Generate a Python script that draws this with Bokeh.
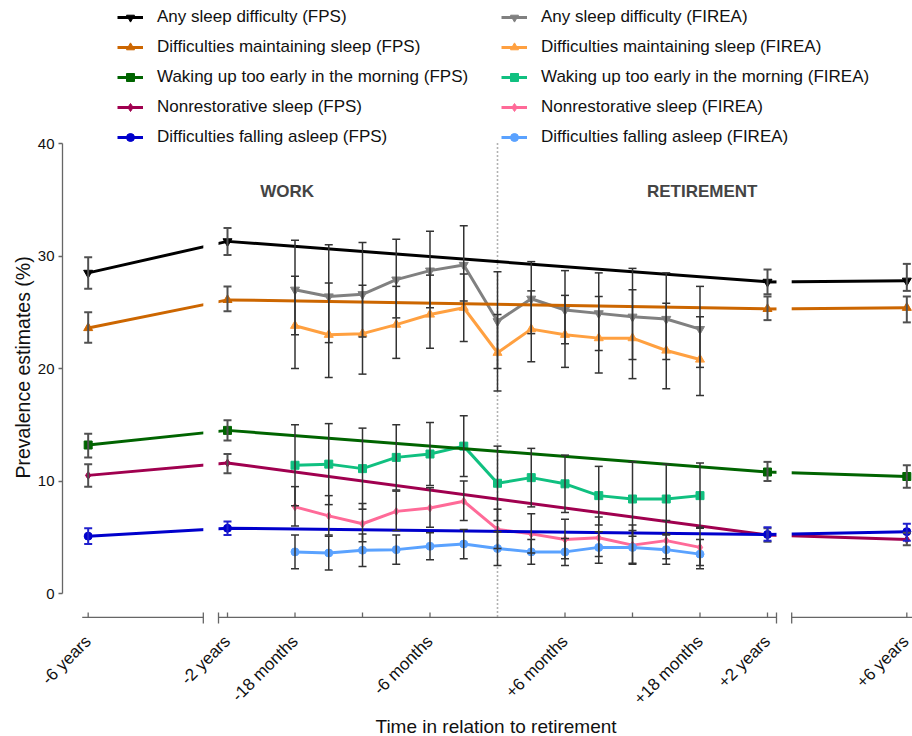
import math
from bokeh.plotting import figure
from bokeh.models import (Range1d, FixedTicker, Legend, LegendItem, Whisker, TeeHead,
                          ColumnDataSource, Label, Title)
from bokeh.embed import file_html
from bokeh.resources import INLINE

# ---------------- data ----------------
fps_months = [-72, -24, 24, 72]
firea_months = [-18, -15, -12, -9, -6, -3, 0, 3, 6, 9, 12, 15, 18]

tick_months = [-72, -24, -18, -12, -6, 6, 12, 18, 24, 72]
tick_labels = {-72: "-6 years", -24: "-2 years", -18: "-18 months", -6: "-6 months",
               6: "+6 months", 18: "+18 months", 24: "+2 years", 72: "+6 years"}
y_ticks = [0, 10, 20, 30, 40]

# FPS series (value, lower CI, upper CI)
fps_any = [28.5, 31.3, 27.7, 27.8]
fps_any_lo = [27.1, 30.1, 26.6, 26.9]
fps_any_hi = [29.9, 32.5, 28.8, 29.3]

fps_maint = [23.6, 26.1, 25.3, 25.4]
fps_maint_lo = [22.3, 25.1, 24.3, 24.1]
fps_maint_hi = [25.0, 27.3, 26.4, 26.4]

fps_wake = [13.2, 14.5, 10.8, 10.4]
fps_wake_lo = [12.1, 13.6, 10.0, 9.4]
fps_wake_hi = [14.2, 15.4, 11.7, 11.4]

fps_nonrest = [10.5, 11.6, 5.2, 4.8]
fps_nonrest_lo = [9.5, 10.7, 4.6, 4.3]
fps_nonrest_hi = [11.5, 12.4, 5.8, 5.4]

fps_fall = [5.1, 5.8, 5.25, 5.5]
fps_fall_lo = [4.4, 5.2, 4.7, 4.7]
fps_fall_hi = [5.8, 6.4, 5.9, 6.2]

# FIREA series
firea_any = [27.0, 26.4, 26.6, 27.9, 28.7, 29.2, 24.2, 26.2, 25.2, 24.9, 24.6, 24.4, 23.5]
firea_any_lo = [23.0, 22.3, 22.8, 24.5, 25.4, 26.0, 20.0, 23.1, 22.2, 21.6, 20.8, 20.8, 20.1]
firea_any_hi = [31.4, 31.0, 31.2, 31.5, 32.2, 32.7, 28.6, 29.5, 28.7, 28.5, 28.9, 28.5, 27.3]

firea_maint = [23.8, 23.0, 23.1, 23.9, 24.8, 25.4, 21.4, 23.5, 23.0, 22.7, 22.7, 21.6, 20.8]
firea_maint_lo = [20.0, 19.2, 19.5, 20.9, 21.8, 22.4, 18.0, 20.6, 20.1, 19.6, 19.1, 18.2, 17.6]
firea_maint_hi = [28.2, 27.6, 27.4, 27.3, 28.3, 28.4, 24.8, 26.9, 26.5, 26.4, 27.0, 25.8, 24.6]

firea_wake = [11.4, 11.5, 11.1, 12.1, 12.4, 13.1, 9.8, 10.3, 9.75, 8.7, 8.4, 8.4, 8.7]
firea_wake_lo = [7.8, 7.9, 7.5, 9.2, 9.6, 10.4, 6.5, 7.7, 7.2, 6.1, 5.1, 5.3, 5.8]
firea_wake_hi = [15.0, 15.1, 14.7, 15.0, 15.2, 15.8, 13.1, 12.9, 12.3, 11.3, 11.7, 11.5, 11.6]

firea_nonrest = [7.7, 6.9, 6.2, 7.3, 7.6, 8.2, 5.7, 5.3, 4.8, 4.95, 4.3, 4.7, 4.1]
firea_nonrest_lo = [6.0, 5.2, 4.6, 5.6, 5.9, 6.5, 4.0, 3.6, 3.1, 3.3, 2.7, 3.1, 2.5]
firea_nonrest_hi = [9.5, 8.7, 8.0, 9.1, 9.4, 10.0, 7.5, 7.1, 6.6, 6.8, 6.1, 6.5, 5.9]

firea_fall = [3.7, 3.6, 3.85, 3.9, 4.2, 4.4, 4.0, 3.7, 3.7, 4.1, 4.1, 3.9, 3.5]
firea_fall_lo = [2.2, 2.1, 2.4, 2.6, 3.0, 3.1, 2.5, 2.6, 2.5, 2.7, 2.6, 2.6, 2.2]
firea_fall_hi = [5.2, 5.1, 5.3, 5.2, 5.4, 5.7, 5.5, 4.8, 4.9, 5.5, 5.6, 5.2, 4.8]

# ---------------- broken time scale ----------------
COMPRESS = 0.258  # scale for the years beyond +-24 months


def pos(m):
    if abs(m) <= 24:
        return float(m)
    return math.copysign(24 + (abs(m) - 24) * COMPRESS, m)


X0, X1 = -38.667, 36.889
Y0, Y1 = -2.844, 52.711
GAP_IN, GAP_OUT = 24.8, 26.15
AXIS_V = -2.13
FONT = "Liberation Sans"
FRAME_H = 625

p = figure(width=912, height=736, x_range=Range1d(X0, X1), y_range=Range1d(Y0, Y1),
           output_backend="svg", toolbar_location=None,
           min_border_left=62, min_border_right=0, min_border_top=0, min_border_bottom=111)
p.grid.visible = False
p.outline_line_color = None

# dotted retirement line
p.segment(x0=[0], y0=[40], x1=[0], y1=[AXIS_V], line_color="#666666",
          line_width=1.6, line_dash="1 3")


def add_err(months, lo, hi, color, width):
    src = ColumnDataSource(dict(x=[pos(m) for m in months], lo=lo, hi=hi))
    w = Whisker(source=src, base="x", lower="lo", upper="hi", line_color=color,
                line_width=width, level="glyph",
                upper_head=TeeHead(size=8, line_color=color, line_width=width),
                lower_head=TeeHead(size=8, line_color=color, line_width=width))
    p.add_layout(w)


firea_series = [
    ("Any sleep difficulty (FIREA)", firea_any, firea_any_lo, firea_any_hi, "#808080", "inverted_triangle", 9),
    ("Difficulties maintaining sleep (FIREA)", firea_maint, firea_maint_lo, firea_maint_hi, "#FFA040", "triangle", 9),
    ("Waking up too early in the morning (FIREA)", firea_wake, firea_wake_lo, firea_wake_hi, "#10C080", "square", 8),
    ("Nonrestorative sleep (FIREA)", firea_nonrest, firea_nonrest_lo, firea_nonrest_hi, "#FF6A98", "diamond", 8),
    ("Difficulties falling asleep (FIREA)", firea_fall, firea_fall_lo, firea_fall_hi, "#5AA2FF", "circle", 8),
]
fps_series = [
    ("Any sleep difficulty (FPS)", fps_any, fps_any_lo, fps_any_hi, "#000000", "inverted_triangle", 9, "#505050"),
    ("Difficulties maintaining sleep (FPS)", fps_maint, fps_maint_lo, fps_maint_hi, "#CC6600", "triangle", 9, "#505050"),
    ("Waking up too early in the morning (FPS)", fps_wake, fps_wake_lo, fps_wake_hi, "#006400", "square", 8, "#505050"),
    ("Nonrestorative sleep (FPS)", fps_nonrest, fps_nonrest_lo, fps_nonrest_hi, "#A0004F", "diamond", 8, "#505050"),
    ("Difficulties falling asleep (FPS)", fps_fall, fps_fall_lo, fps_fall_hi, "#0000CC", "circle", 8, "#2020CC"),
]

firea_x = [pos(m) for m in firea_months]
fps_x = [pos(m) for m in fps_months]

firea_items = []
for label, vals, lo, hi, color, marker, size in firea_series:
    add_err(firea_months, lo, hi, "#333333", 1.5)
for label, vals, lo, hi, color, marker, size in firea_series:
    lr = p.line(firea_x, vals, line_color=color, line_width=3)
    sr = p.scatter(firea_x, vals, marker=marker, size=size, fill_color=color, line_color=color)
    firea_items.append(LegendItem(label=label, renderers=[lr, sr]))

fps_items = []
for label, vals, lo, hi, color, marker, size, ecol in fps_series:
    add_err(fps_months, lo, hi, ecol, 2)
    lr = p.line(fps_x, vals, line_color=color, line_width=3)
    sr = p.scatter(fps_x, vals, marker=marker, size=size, fill_color=color, line_color=color)
    fps_items.append(LegendItem(label=label, renderers=[lr, sr]))

# axis breaks: white masks over lines
p.quad(left=[-GAP_OUT, GAP_IN], right=[-GAP_IN, GAP_OUT], bottom=-1.0, top=38.0,
       fill_color="white", line_color=None)

# x-axis line pieces, ticks and break bars
AX_COL = "#666666"
p.segment(x0=[pos(-72) - 0.53, -GAP_IN, GAP_OUT], y0=[AXIS_V] * 3,
          x1=[-GAP_OUT, GAP_IN, X1], y1=[AXIS_V] * 3, line_color=AX_COL, line_width=1.3)
tx = [pos(m) for m in tick_months]
p.segment(x0=tx, y0=[AXIS_V] * len(tx), x1=tx, y1=[AXIS_V + 0.45] * len(tx),
          line_color=AX_COL, line_width=1.3)
bx = [-GAP_OUT, -GAP_IN, GAP_IN, GAP_OUT]
p.segment(x0=bx, y0=[AXIS_V - 0.54] * 4, x1=bx, y1=[AXIS_V + 0.44] * 4,
          line_color=AX_COL, line_width=1.3)

# x axis: labels only
xa = p.xaxis[0]
xa.ticker = FixedTicker(ticks=[pos(m) for m in tick_labels])
xa.major_label_overrides = {pos(m): t for m, t in tick_labels.items()}
xa.axis_line_color = None
xa.major_tick_line_color = None
xa.major_tick_out = 0
xa.major_tick_in = 0
xa.minor_tick_line_color = None
xa.minor_tick_out = 0
xa.major_label_orientation = math.pi / 4
xa.major_label_standoff = 13
xa.major_label_text_font = FONT
xa.major_label_text_font_size = "17px"
xa.major_label_text_color = "#111111"

ya = p.yaxis[0]
ya.ticker = FixedTicker(ticks=y_ticks)
ya.bounds = (0, 40)
ya.axis_line_color = AX_COL
ya.axis_line_width = 1.3
ya.major_tick_line_color = AX_COL
ya.major_tick_line_width = 1.3
ya.major_tick_out = 4
ya.major_tick_in = 0
ya.minor_tick_line_color = None
ya.major_label_standoff = 4
ya.major_label_text_font = FONT
ya.major_label_text_font_size = "15px"
ya.major_label_text_color = "#111111"

# axis titles as side-panel titles
p.add_layout(Title(text="Time in relation to retirement", align="left", offset=313, standoff=-6,
                   vertical_align="top",
                   text_font=FONT, text_font_size="19px", text_font_style="normal",
                   text_color="#111111"), "below")
p.add_layout(Title(text="Prevalence estimates (%)", align="left", offset=147, standoff=2,
                   text_font=FONT, text_font_size="19.5px", text_font_style="normal",
                   text_color="#111111"), "left")

# period labels
p.add_layout(Label(x=-18.7, y=35.7, text="WORK", text_align="center", text_baseline="middle",
                   text_font=FONT, text_font_size="17px", text_font_style="bold"))
p.add_layout(Label(x=18.2, y=35.7, text="RETIREMENT", text_align="center", text_baseline="middle",
                   text_font=FONT, text_font_size="17px", text_font_style="bold"))

LEG_H = 5 * 20 + 4 * 10
LEG_TOP = 7


def make_legend(items, x):
    return Legend(items=items, location=(x, FRAME_H - LEG_TOP - LEG_H), orientation="vertical",
                  padding=0, margin=0, spacing=10, label_height=20, glyph_height=20,
                  glyph_width=26, label_standoff=14, border_line_color=None,
                  background_fill_alpha=0, label_text_font=FONT, label_text_font_size="17px",
                  label_text_color="#111111")


p.add_layout(make_legend(fps_items, 55))
p.add_layout(make_legend(firea_items, 439))

open("out.html", "w").write(file_html(p, INLINE))
